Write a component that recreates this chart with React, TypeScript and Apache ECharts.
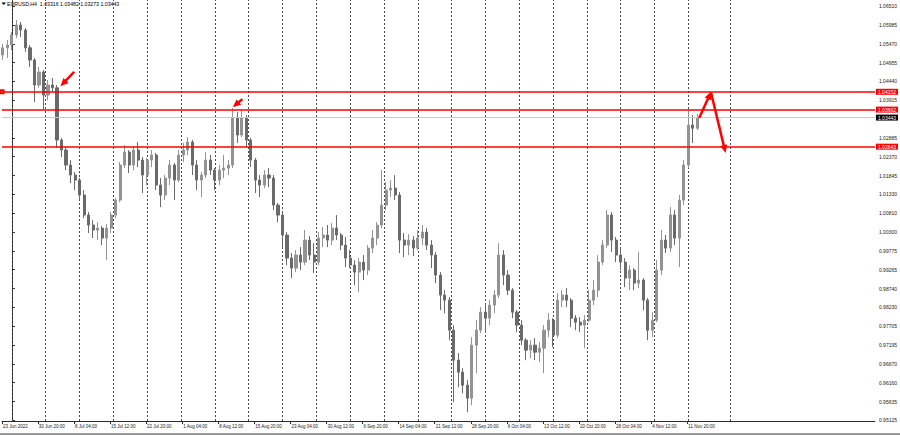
import React, { useEffect, useRef } from "react";
import * as echarts from "echarts";

// EURUSD H4 — each candle below aggregates 4 consecutive H4 bars.
// x position = H4 bar index counted from Monday 27 Jun 2022 00:00.
const firstBarIndex = -8;
const barsPerCandle = 4;

const opens = [
  1.05163, 1.0536, 1.05438, 1.05713, 1.05988, 1.0585, 1.0536, 1.05025, 1.04338, 1.04695,
  1.04063, 1.04338, 1.0426, 1.02825, 1.0255, 1.02138, 1.01863, 1.01725, 1.01313, 1.00763,
  1.00488, 1.0035, 1.00405, 1.0013, 1.00405, 1.00763, 1.01175, 1.02138, 1.02495, 1.02138,
  1.0255, 1.02275, 1.01863, 1.02275, 1.02413, 1.01588, 1.01313, 1.0178, 1.02138, 1.01725,
  1.02413, 1.0255, 1.0277, 1.02138, 1.01725, 1.01863, 1.02275, 1.02, 1.01725, 1.02,
  1.02055, 1.02138, 1.0343, 1.02963, 1.0343, 1.02825, 1.02275, 1.01725, 1.01588, 1.01863,
  1.0178, 1.01038, 1.00763, 1.00213, 0.9958, 0.99305, 0.99663, 0.9947, 1.00075, 0.99663,
  0.9947, 1.0013, 1.00213, 1.00075, 1.00405, 1.00213, 0.99938, 0.9958, 0.99388, 0.99195,
  0.9947, 0.9925, 0.99855, 1.0013, 1.00488, 1.01038, 1.0145, 1.01505, 1.01313, 1.00075,
  0.99938, 1.00075, 0.99855, 1.0013, 1.00295, 0.99938, 0.99663, 0.99113, 0.98563, 0.98425,
  0.976, 0.96775, 0.96445, 0.96088, 0.9573, 0.97188, 0.976, 0.98095, 0.9793, 0.98288,
  0.98563, 0.99663, 0.99113, 0.987, 0.98095, 0.97738, 0.97325, 0.9705, 0.97188, 0.96995,
  0.97105, 0.976, 0.97875, 0.97463, 0.98425, 0.98563, 0.98425, 0.9793, 0.9782, 0.97738,
  0.97875, 0.98425, 0.987, 0.9947, 0.99938, 1.00763, 1.00075, 0.99663, 0.9947, 0.9903,
  0.9925, 0.98893, 0.98975, 0.98425, 0.976, 0.97875, 0.9925, 1.00075, 0.99855, 1.00763,
  1.0013, 1.01175, 1.02138, 1.03238, 1.0315,
];

const closes = [
  1.0536, 1.05438, 1.05713, 1.05988, 1.0585, 1.0536, 1.05025, 1.04338, 1.04695, 1.04063,
  1.04338, 1.0426, 1.02825, 1.0255, 1.02138, 1.01863, 1.01725, 1.01313, 1.00763, 1.00488,
  1.0035, 1.00405, 1.0013, 1.00405, 1.00763, 1.01175, 1.02138, 1.02495, 1.02138, 1.0255,
  1.02275, 1.01863, 1.02275, 1.02413, 1.01588, 1.01313, 1.0178, 1.02138, 1.01725, 1.02413,
  1.0255, 1.0277, 1.02138, 1.01725, 1.01863, 1.02275, 1.02, 1.01725, 1.02, 1.02055,
  1.02138, 1.0343, 1.02963, 1.0343, 1.02825, 1.02275, 1.01725, 1.01588, 1.01863, 1.0178,
  1.01038, 1.00763, 1.00213, 0.9958, 0.99305, 0.99663, 0.9947, 1.00075, 0.99663, 0.9947,
  1.0013, 1.00213, 1.00075, 1.00405, 1.00213, 0.99938, 0.9958, 0.99388, 0.99195, 0.9947,
  0.9925, 0.99855, 1.0013, 1.00488, 1.01038, 1.0145, 1.01505, 1.01313, 1.00075, 0.99938,
  1.00075, 0.99855, 1.0013, 1.00295, 0.99938, 0.99663, 0.99113, 0.98563, 0.98425, 0.976,
  0.96775, 0.96445, 0.96088, 0.9573, 0.97188, 0.976, 0.98095, 0.9793, 0.98288, 0.98563,
  0.99663, 0.99113, 0.987, 0.98095, 0.97738, 0.97325, 0.9705, 0.97188, 0.96995, 0.97105,
  0.976, 0.97875, 0.97463, 0.98425, 0.98563, 0.98425, 0.9793, 0.9782, 0.97738, 0.97875,
  0.98425, 0.987, 0.9947, 0.99938, 1.00763, 1.00075, 0.99663, 0.9947, 0.9903, 0.9925,
  0.98893, 0.98975, 0.98425, 0.976, 0.97875, 0.9925, 1.00075, 0.99855, 1.00763, 1.0013,
  1.01175, 1.02138, 1.03238, 1.0315, 1.03443,
];

const lows = [
  1.05025, 1.0508, 1.053, 1.0563, 1.05658, 1.0525, 1.04833, 1.0387, 1.0426, 1.0365,
  1.03925, 1.0414, 1.02605, 1.02358, 1.02, 1.01643, 1.0145, 1.01175, 1.0068, 1.00268,
  1.0013, 1.00075, 0.99938, 0.99525, 1.00268, 1.0068, 1.0112, 1.02055, 1.01918, 1.02,
  1.02083, 1.01368, 1.01588, 1.02083, 1.0145, 1.00983, 1.01175, 1.01588, 1.01175, 1.0167,
  1.0222, 1.02413, 1.01863, 1.0145, 1.01258, 1.0178, 1.01863, 1.0145, 1.01588, 1.0178,
  1.01863, 1.02055, 1.02743, 1.02908, 1.02633, 1.02083, 1.01368, 1.01258, 1.01505, 1.01533,
  1.009, 1.0057, 0.99883, 0.99388, 0.9903, 0.99195, 0.9925, 0.99388, 0.99525, 0.99168,
  0.99388, 0.99883, 0.99883, 0.99938, 1.00075, 0.998, 0.99333, 0.99305, 0.98838, 0.98645,
  0.98975, 0.99113, 0.99718, 0.99938, 1.00405, 1.009, 1.01258, 1.01175, 0.99718, 0.99608,
  0.99663, 0.99635, 0.998, 0.99938, 0.998, 0.99305, 0.98893, 0.9815, 0.98068, 0.97325,
  0.9562, 0.96033, 0.95868, 0.95345, 0.95538, 0.96418, 0.97518, 0.97518, 0.97738, 0.98068,
  0.9848, 0.98838, 0.98563, 0.9793, 0.97545, 0.97188, 0.96775, 0.9683, 0.96775, 0.9672,
  0.96418, 0.97408, 0.97133, 0.9738, 0.98233, 0.98233, 0.97683, 0.976, 0.97545, 0.97105,
  0.9782, 0.98288, 0.98508, 0.99388, 0.99855, 0.99745, 0.9947, 0.9925, 0.98783, 0.987,
  0.987, 0.98755, 0.9815, 0.97325, 0.97408, 0.9782, 0.99113, 0.99718, 0.99745, 0.99938,
  0.99333, 1.01038, 1.02055, 1.02743, 1.031,
];

const highs = [
  1.05465, 1.05575, 1.05795, 1.06125, 1.0607, 1.05905, 1.05438, 1.0508, 1.04833, 1.0475,
  1.04475, 1.0453, 1.04338, 1.0288, 1.02633, 1.02275, 1.01945, 1.0178, 1.0145, 1.00845,
  1.00625, 1.0057, 1.0046, 1.00515, 1.00845, 1.0123, 1.0222, 1.02688, 1.0255, 1.0266,
  1.0277, 1.02358, 1.0233, 1.0255, 1.02468, 1.0178, 1.01863, 1.02275, 1.02193, 1.0255,
  1.02743, 1.02908, 1.02825, 1.02275, 1.01945, 1.02495, 1.02413, 1.02055, 1.02138, 1.02413,
  1.02275, 1.03705, 1.03595, 1.0365, 1.03513, 1.0288, 1.0233, 1.01863, 1.02, 1.02055,
  1.01863, 1.01093, 1.00845, 1.00295, 0.99718, 0.998, 0.99883, 1.0035, 1.00185, 0.99993,
  1.00295, 1.00433, 1.00488, 1.00543, 1.00763, 1.00268, 1.00158, 0.998, 0.99525, 0.9958,
  0.99663, 0.99938, 1.0035, 1.0057, 1.02, 1.0167, 1.01725, 1.01863, 1.01395, 1.00268,
  1.0024, 1.00185, 1.0035, 1.00488, 1.00405, 1.00075, 0.99745, 0.99195, 0.987, 0.98508,
  0.97738, 0.96968, 0.96555, 0.96225, 0.97408, 0.97875, 0.98233, 0.98343, 0.98425, 0.987,
  0.99993, 0.998, 0.9925, 0.98755, 0.9815, 0.97875, 0.9738, 0.97325, 0.9738, 0.9727,
  0.97738, 0.98068, 0.9793, 0.98618, 0.987, 0.98755, 0.9848, 0.98013, 0.97958, 0.98013,
  0.987, 0.98975, 0.99663, 1.00075, 1.009, 1.00845, 1.00158, 0.99855, 0.9958, 0.99388,
  0.99305, 0.99745, 0.9903, 0.9848, 0.98095, 0.99525, 1.0035, 1.00213, 1.00983, 1.009,
  1.01313, 1.02275, 1.0365, 1.03513, 1.0354,
];

// time axis
const timeLabelIndex = [-8.8, 23, 55, 87, 119, 151, 183, 215, 247, 279, 311, 343, 375, 407, 439, 471, 503, 535, 567, 599];
const timeLabels = [
  "23 Jun 2022", "30 Jun 20:00", "8 Jul 04:00", "15 Jul 12:00", "22 Jul 20:00", "1 Aug 04:00",
  "8 Aug 12:00", "15 Aug 20:00", "23 Aug 04:00", "30 Aug 12:00", "6 Sep 20:00", "14 Sep 04:00",
  "21 Sep 12:00", "28 Sep 20:00", "6 Oct 04:00", "13 Oct 12:00", "20 Oct 20:00", "28 Oct 04:00",
  "4 Nov 12:00", "11 Nov 20:00",
];
const gridLineIndex = [0, 30, 60, 90, 120, 150, 180, 210, 240, 270, 300, 330, 360, 390, 420, 450, 480, 510, 540, 570, 600, 637];

// price axis
const priceLabels = [
  1.0651, 1.05985, 1.0547, 1.04955, 1.0444, 1.03915, 1.02885, 1.0237, 1.01845, 1.0133, 1.0081,
  1.003, 0.99775, 0.99265, 0.9874, 0.9823, 0.97705, 0.97195, 0.9667, 0.9616, 0.95635, 0.95125,
];
const priceMin = 0.951025;
const priceMax = 1.06675;

const levelPrices = [1.04152, 1.03662, 1.02643];
const currentPrice = 1.03443;
const titleSymbol = "EURUSD,H4";
const titleOHLC = [1.03316, 1.03482, 1.03273, 1.03443];

// annotation arrows: [from index, from price, to index, to price]
const arrows = [
  [55.2, 1.04703, 45.5, 1.04382],
  [204.4, 1.0395, 198.6, 1.03796],
  [609.6, 1.0343, 618.8, 1.04057],
  [620.2, 1.04118, 632.2, 1.02575],
];

const FONT = "Liberation Sans, Arial, sans-serif";
const RED = "#ff0000";

function buildOption() {
  const candles = opens.map((o, k) => [firstBarIndex + barsPerCandle * k, o, closes[k], lows[k], highs[k]]);

  const axisTag = (text: string, bg: string) => ({
    show: true,
    position: "end",
    distance: 1,
    formatter: text,
    color: "#ffffff",
    backgroundColor: bg,
    fontSize: 5,
    fontFamily: FONT,
    padding: [1, 2, 0, 2],
  });

  const levelLines: any[] = levelPrices.map((p, i) => ({
    yAxis: p,
    symbol: i === 0 ? "emptyRect" : "none",
    symbolSize: 3,
    itemStyle: { color: RED },
    lineStyle: { color: RED, width: 1.5, type: "solid" },
    label: axisTag(p.toFixed(5), RED),
  }));

  const currentLine = {
    yAxis: currentPrice,
    symbol: "none",
    lineStyle: { color: "#c8c8c8", width: 1, type: "solid" },
    label: axisTag(currentPrice.toFixed(5), "#000000"),
  };

  const arrowLines = arrows.map((a) => [
    { coord: [a[0], a[1]], symbol: "none" },
    { coord: [a[2], a[3]], symbol: "triangle", symbolSize: [7, 8] },
  ]);

  return {
    animation: false,
    backgroundColor: "#ffffff",
    textStyle: { fontFamily: FONT },
    grid: { left: 0, top: 0, right: 21, bottom: 14, containLabel: false },
    xAxis: {
      type: "value",
      min: -8.8,
      max: 765.5,
      axisLine: { show: true, onZero: false, lineStyle: { color: "#2b2b2b", width: 1 } },
      axisTick: { show: true, customValues: timeLabelIndex, length: 3, lineStyle: { color: "#2b2b2b" } },
      axisLabel: {
        show: true,
        customValues: timeLabelIndex,
        formatter: (v: number) => {
          let best = 0;
          for (let i = 1; i < timeLabelIndex.length; i++) {
            if (Math.abs(timeLabelIndex[i] - v) < Math.abs(timeLabelIndex[best] - v)) best = i;
          }
          return timeLabels[best];
        },
        fontSize: 4.5,
        color: "#1a1a1a",
        align: "left",
        margin: 3,
        padding: [0, 0, 0, 1],
        fontFamily: FONT,
      },
      splitLine: { show: false },
    },
    yAxis: {
      type: "value",
      position: "right",
      min: priceMin,
      max: priceMax,
      axisLine: { show: true, lineStyle: { color: "#2b2b2b", width: 1 } },
      axisTick: { show: true, customValues: priceLabels, length: 3, lineStyle: { color: "#2b2b2b" } },
      axisLabel: {
        show: true,
        customValues: priceLabels,
        formatter: (v: number) => v.toFixed(5),
        fontSize: 5,
        color: "#1a1a1a",
        margin: 4,
        fontFamily: FONT,
      },
      splitLine: { show: false },
    },
    series: [
      {
        type: "line",
        data: [],
        silent: true,
        z: 1,
        markLine: {
          z: 1,
          silent: true,
          animation: false,
          precision: 5,
          symbol: "none",
          label: { show: false },
          lineStyle: { color: "#4a4a4a", width: 1, type: [2, 2] },
          emphasis: { disabled: true },
          data: gridLineIndex.map((x) => ({ xAxis: x })),
        },
      },
      {
        type: "candlestick",
        data: candles,
        barWidth: 2.6,
        z: 2,
        silent: true,
        itemStyle: {
          color: "#939393",
          color0: "#6a6a6a",
          borderColor: "#939393",
          borderColor0: "#6a6a6a",
          borderWidth: 1,
        },
      },
      {
        type: "line",
        data: [],
        silent: true,
        z: 5,
        markLine: {
          z: 5,
          silent: true,
          animation: false,
          precision: 5,
          symbol: "none",
          emphasis: { disabled: true },
          data: [currentLine, ...levelLines, ...arrowLines],
          lineStyle: { color: RED, width: 2.5, type: "solid" },
          itemStyle: { color: RED },
          label: { show: false },
        },
      },
    ],
    graphic: [
      {
        type: "polygon",
        shape: { points: [[1.5, 2.5], [6, 2.5], [3.75, 5]] },
        style: { fill: "#000000" },
      },
      {
        type: "text",
        left: 7,
        top: 1,
        style: {
          text: `${titleSymbol}  ${titleOHLC.map((v) => v.toFixed(5)).join(" ")}`,
          fontSize: 5.2,
          fontFamily: FONT,
          fill: "#000000",
        },
      },
      {
        type: "rect",
        shape: { x: 0, y: 433, width: 900, height: 2 },
        style: { fill: "#9a9a9a" },
      },
    ],
  };
}

export default function App() {
  const ref = useRef<HTMLDivElement>(null);
  useEffect(() => {
    if (!ref.current) return;
    const chart = echarts.init(ref.current, null, { renderer: "svg" });
    chart.setOption(buildOption() as any);
    return () => chart.dispose();
  }, []);
  return (
    <div
      ref={ref}
      style={{ position: "fixed", left: 0, top: 0, width: 900, height: 435, background: "#ffffff" }}
    />
  );
}
